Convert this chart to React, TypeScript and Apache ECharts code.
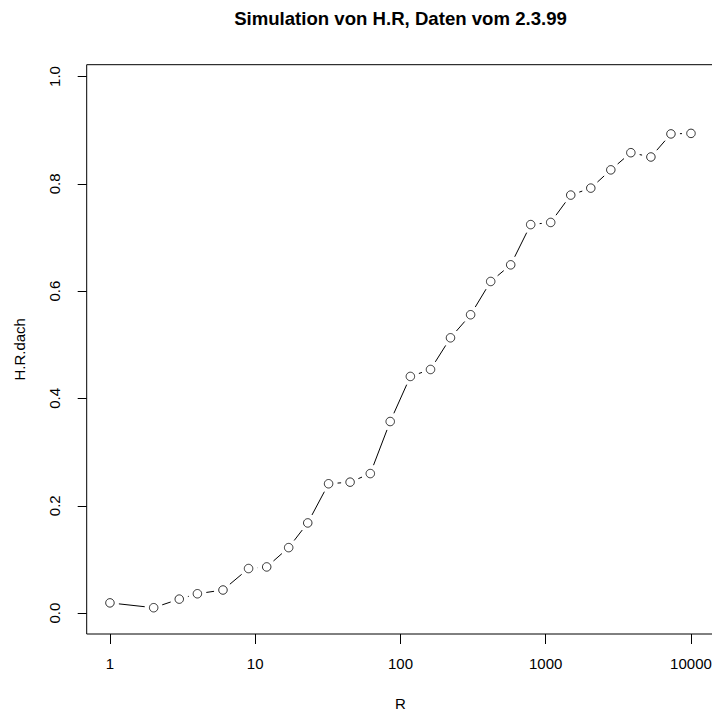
import React, { useEffect, useRef } from "react";
import * as echarts from "echarts";

// Simulated H.R estimates against R (log scale)
const R_VALUES = [
  1, 2, 3, 4, 6, 9, 12, 17, 23, 32, 45, 62, 85, 117, 161, 221, 304, 418, 574,
  788, 1082, 1487, 2043, 2806, 3855, 5298, 7279, 10000,
];
const HR_DACH = [
  0.019, 0.010, 0.026, 0.036, 0.043, 0.083, 0.086, 0.122, 0.168, 0.241, 0.244,
  0.260, 0.357, 0.441, 0.454, 0.513, 0.556, 0.618, 0.649, 0.724, 0.728, 0.779,
  0.792, 0.826, 0.858, 0.850, 0.893, 0.894,
];
const X_TICKS = [1, 10, 100, 1000, 10000];
const Y_TICKS = [0, 0.2, 0.4, 0.6, 0.8, 1.0];

const TITLE = "Simulation von H.R, Daten vom 2.3.99";
const X_NAME = "R";
const Y_NAME = "H.R.dach";

const FONT = "'Liberation Sans', Arial, Helvetica, sans-serif";
const GAP = 9; // gap between a point and its connecting segment (type "b")

export default function App() {
  const ref = useRef<HTMLDivElement>(null);

  useEffect(() => {
    if (!ref.current) return;
    const chart = echarts.init(ref.current, null, { renderer: "svg" });

    const points = R_VALUES.map((r, i) => [r, HR_DACH[i]]);
    const segments = R_VALUES.slice(0, -1).map((r, i) => [
      r,
      HR_DACH[i],
      R_VALUES[i + 1],
      HR_DACH[i + 1],
    ]);

    chart.setOption({
      animation: false,
      backgroundColor: "#ffffff",
      textStyle: { fontFamily: FONT },
      graphic: [
        {
          type: "text",
          x: 400.5,
          y: 18,
          style: {
            text: TITLE,
            font: `bold 18.6px ${FONT}`,
            fill: "#000",
            align: "center",
            verticalAlign: "middle",
          },
        },
      ],
      grid: {
        left: 86.7,
        right: -2.2,
        top: 64.7,
        bottom: 77,
        outerBoundsMode: "none",
        containLabel: false,
        show: true,
        borderColor: "#000",
        borderWidth: 1,
        backgroundColor: "transparent",
      },
      xAxis: {
        type: "log",
        logBase: 10,
        min: 0.6918,
        max: 14450,
        name: X_NAME,
        nameLocation: "middle",
        nameGap: 62,
        nameTextStyle: { fontSize: 15, color: "#000", fontFamily: FONT },
        axisLine: { show: false, onZero: false },
        axisTick: {
          show: true,
          length: 10,
          customValues: X_TICKS,
          lineStyle: { color: "#000", width: 1 },
        },
        axisLabel: {
          show: true,
          customValues: X_TICKS,
          margin: 22,
          fontSize: 15,
          color: "#000",
          fontFamily: FONT,
          formatter: (v: number) => String(Math.round(v)),
        },
        splitLine: { show: false },
        minorTick: { show: false },
      },
      yAxis: {
        type: "value",
        min: -0.039,
        max: 1.022,
        name: Y_NAME,
        nameLocation: "middle",
        nameGap: 60,
        nameRotate: 90,
        nameTextStyle: { fontSize: 15, color: "#000", fontFamily: FONT },
        axisLine: { show: false, onZero: false },
        axisTick: {
          show: true,
          length: 9,
          customValues: Y_TICKS,
          lineStyle: { color: "#000", width: 1 },
        },
        axisLabel: {
          show: true,
          customValues: Y_TICKS,
          rotate: 90,
          margin: 25,
          fontSize: 15,
          color: "#000",
          fontFamily: FONT,
          formatter: (v: number) => v.toFixed(1),
        },
        splitLine: { show: false },
      },
      series: [
        {
          type: "custom",
          silent: true,
          encode: { x: [0, 2], y: [1, 3] },
          data: segments,
          renderItem: (_params: any, api: any) => {
            const p1 = api.coord([api.value(0), api.value(1)]);
            const p2 = api.coord([api.value(2), api.value(3)]);
            const dx = p2[0] - p1[0];
            const dy = p2[1] - p1[1];
            const d = Math.sqrt(dx * dx + dy * dy);
            if (d <= 2 * GAP) return null;
            const ux = dx / d;
            const uy = dy / d;
            return {
              type: "line",
              shape: {
                x1: p1[0] + ux * GAP,
                y1: p1[1] + uy * GAP,
                x2: p2[0] - ux * GAP,
                y2: p2[1] - uy * GAP,
              },
              style: { stroke: "#000", lineWidth: 1 },
            };
          },
        },
        {
          type: "scatter",
          data: points,
          symbol: "circle",
          symbolSize: 8.5,
          itemStyle: { color: "#fff", borderColor: "#000", borderWidth: 1 },
          silent: true,
        },
      ],
    });

    return () => chart.dispose();
  }, []);

  return (
    <div
      ref={ref}
      style={{ position: "absolute", left: 0, top: 0, width: 712, height: 711 }}
    />
  );
}
